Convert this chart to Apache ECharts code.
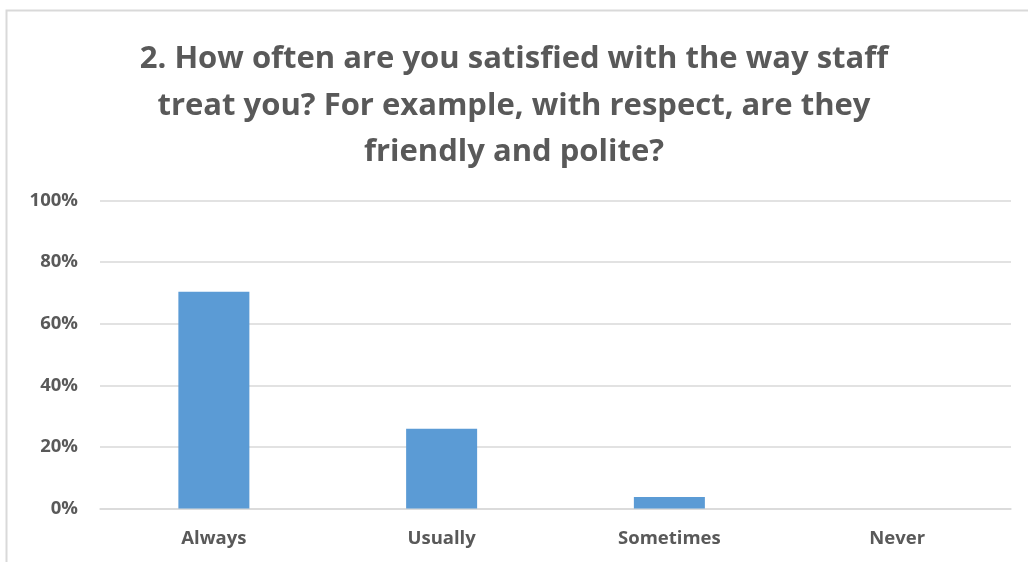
<!DOCTYPE html>
<html>
<head>
<meta charset="utf-8">
<script src="https://cdn.jsdelivr.net/npm/echarts@6/dist/echarts.min.js"></script>
<style>
html,body{margin:0;padding:0;background:#fff;}
#chart{width:1028px;height:562px;}
</style>
</head>
<body>
<div id="chart"></div>
<script>
const titleText = "2. How often are you satisfied with the way staff\ntreat you? For example, with respect, are they\nfriendly and polite?";
const categories = ["Always", "Usually", "Sometimes", "Never"];
const values = [70.4, 25.9, 3.7, 0];
const yTicks = [0, 20, 40, 60, 80, 100];

const chart = echarts.init(document.getElementById('chart'), null, {renderer: 'canvas'});
const font = "'Open Sans', 'Liberation Sans', sans-serif";
chart.setOption({
  animation: false,
  backgroundColor: '#ffffff',
  graphic: [{
    type: 'polyline',
    shape: {points: [[6.5, 562], [6.5, 10.5], [1028, 10.5]]},
    style: {stroke: '#d9d9d9', lineWidth: 2, fill: null}
  }],
  title: {
    text: titleText,
    left: 'center',
    top: 31,
    textStyle: {
      fontFamily: font,
      fontWeight: 'bold',
      fontSize: 31,
      color: '#595959',
      lineHeight: 46.5
    }
  },
  grid: {left: 100, right: 17, top: 200.5, bottom: 53.5, containLabel: false},
  xAxis: {
    type: 'category',
    data: categories,
    axisLine: {lineStyle: {color: '#d9d9d9', width: 1.5}},
    axisTick: {show: false},
    axisLabel: {
      fontFamily: font, fontWeight: 'bold', fontSize: 18.5, color: '#595959', margin: 21
    }
  },
  yAxis: {
    type: 'value',
    min: yTicks[0],
    max: yTicks[yTicks.length - 1],
    interval: 20,
    axisLine: {show: false},
    axisTick: {show: false},
    splitLine: {lineStyle: {color: '#d9d9d9', width: 1.5}},
    axisLabel: {
      formatter: '{value}%',
      fontFamily: font, fontWeight: 'bold', fontSize: 18.5, color: '#595959', margin: 22
    }
  },
  series: [{
    type: 'bar',
    data: values,
    barWidth: 71,
    itemStyle: {color: '#5b9bd5'}
  }]
});
</script>
</body>
</html>
